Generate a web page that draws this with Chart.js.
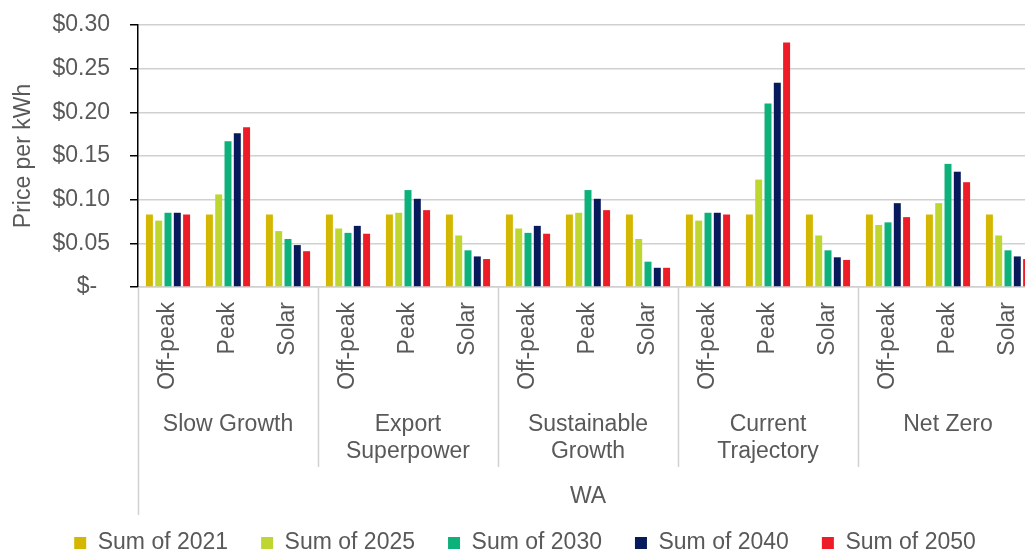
<!DOCTYPE html>
<html>
<head>
<meta charset="utf-8">
<script src="https://cdn.jsdelivr.net/npm/chart.js@4/dist/chart.umd.min.js"></script>
<style>
  html, body { margin: 0; padding: 0; background: #fff; overflow: hidden; }
  #wrap { width: 1040px; height: 553px; overflow: hidden; position: relative; }
  canvas { display: block; }
</style>
</head>
<body>
<div id="wrap"><canvas id="c" width="1040" height="553" style="width:1040px;height:553px"></canvas></div>
<script>
// ---- data ----
const categories = ['Off-peak', 'Peak', 'Solar'];
const scenarios = ['Slow Growth', 'Export\nSuperpower', 'Sustainable\nGrowth', 'Current\nTrajectory', 'Net Zero'];
const region = 'WA';
const seriesNames = ['Sum of 2021', 'Sum of 2025', 'Sum of 2030', 'Sum of 2040', 'Sum of 2050'];
const sum2021 = [0.083, 0.083, 0.083, 0.083, 0.083, 0.083, 0.083, 0.083, 0.083, 0.083, 0.083, 0.083, 0.083, 0.083, 0.083];
const sum2025 = [0.076, 0.106, 0.064, 0.067, 0.085, 0.059, 0.067, 0.085, 0.055, 0.076, 0.123, 0.059, 0.071, 0.096, 0.059];
const sum2030 = [0.085, 0.167, 0.055, 0.062, 0.111, 0.042, 0.062, 0.111, 0.029, 0.085, 0.210, 0.042, 0.074, 0.141, 0.042];
const sum2040 = [0.085, 0.176, 0.048, 0.070, 0.101, 0.035, 0.070, 0.101, 0.022, 0.085, 0.234, 0.034, 0.096, 0.132, 0.035];
const sum2050 = [0.083, 0.183, 0.041, 0.061, 0.088, 0.032, 0.061, 0.088, 0.022, 0.083, 0.280, 0.031, 0.080, 0.120, 0.032];
const yTicks = [0, 0.05, 0.10, 0.15, 0.20, 0.25, 0.30];

// ---- styling ----
const colors = ['#D4B700', '#BFD630', '#0DB27A', '#071A5C', '#EE1C27'];
const FONT = '"Liberation Sans", Arial, sans-serif';
const TXT = '#595959';
const FS = 23;

const labels = [];
scenarios.forEach(() => categories.forEach(c => labels.push(c)));
const allSeries = [sum2021, sum2025, sum2030, sum2040, sum2050];

const groupPlugin = {
  id: 'groups',
  afterLayout(chart) {
    const lg = chart.legend;
    if (lg) {
      const target = 525;
      const dx = target - (lg.left + lg.right) / 2;
      lg.left += dx; lg.right += dx;
      const h = lg.bottom - lg.top;
      const pad = chart.options.plugins.legend.labels.padding;
      const newTop = 543 - pad - FS / 2;
      lg.top = newTop; lg.bottom = newTop + h;
      if (lg.adjustHitBoxes) lg.adjustHitBoxes();
    }
  },
  afterDraw(chart) {
    const ctx = chart.ctx;
    const xs = chart.scales.x;
    const area = chart.chartArea;
    const half = (xs.getPixelForValue(1) - xs.getPixelForValue(0)) / 2;
    ctx.save();
    ctx.strokeStyle = '#d0d0d0';
    ctx.lineWidth = 1.5;
    for (let g = 0; g <= scenarios.length; g++) {
      const bx = Math.round(xs.getPixelForValue(g * categories.length) - half) + 0.5;
      ctx.beginPath();
      ctx.moveTo(bx, area.bottom);
      ctx.lineTo(bx, g === 0 ? 515 : 467);
      ctx.stroke();
    }
    ctx.fillStyle = TXT;
    ctx.font = FS + 'px ' + FONT;
    ctx.textAlign = 'center';
    ctx.textBaseline = 'middle';
    scenarios.forEach((s, g) => {
      const cx = xs.getPixelForValue(g * categories.length + 1);
      s.split('\n').forEach((line, i) => ctx.fillText(line, cx, 425 + i * 27));
    });
    ctx.fillText(region, (area.left + area.right) / 2, 497);
    ctx.restore();
  }
};

new Chart(document.getElementById('c'), {
  type: 'bar',
  data: {
    labels: labels,
    datasets: allSeries.map((d, i) => ({
      label: seriesNames[i],
      data: d,
      backgroundColor: colors[i],
      borderWidth: 0,
      categoryPercentage: 0.775,
      barPercentage: 0.75
    }))
  },
  options: {
    responsive: false,
    maintainAspectRatio: false,
    animation: false,
    devicePixelRatio: 1,
    layout: { padding: { top: 25, right: 2, left: 0, bottom: 0 } },
    plugins: {
      tooltip: { enabled: false },
      legend: {
        position: 'bottom',
        align: 'center',
        labels: {
          boxWidth: 12, boxHeight: 12, padding: 33,
          color: TXT, font: { family: FONT, size: FS }
        }
      }
    },
    scales: {
      x: {
        grid: { display: false, drawTicks: false },
        border: { display: true, color: '#d0d0d0', width: 1.5 },
        ticks: {
          autoSkip: false, minRotation: 90, maxRotation: 90, padding: 15,
          color: TXT, font: { family: FONT, size: FS }
        },
        afterFit(s) {
          const lh = s.chart.legend ? s.chart.legend.height : 0;
          s.height = 553 - 287 - lh;
          s.paddingLeft = 0; s.paddingRight = 0;
        }
      },
      y: {
        min: 0, max: 0.30,
        afterBuildTicks(s) { s.ticks = yTicks.map(v => ({ value: v })); },
        grid: { color: '#d0d0d0', lineWidth: 1.5, tickColor: '#000', tickLength: 8 },
        border: { display: true, color: '#000', width: 1.5 },
        ticks: {
          padding: 20, color: TXT, font: { family: FONT, size: FS },
          callback: v => v === 0 ? '$-  ' : '$' + Number(v).toFixed(2)
        },
        title: {
          display: true, text: 'Price per kWh', color: TXT,
          font: { family: FONT, size: FS }, padding: { top: 10, bottom: 0 }
        },
        afterFit(s) { s.width = 138; s.paddingTop = 0; s.paddingBottom = 0; }
      }
    }
  },
  plugins: [groupPlugin]
});
</script>
</body>
</html>
